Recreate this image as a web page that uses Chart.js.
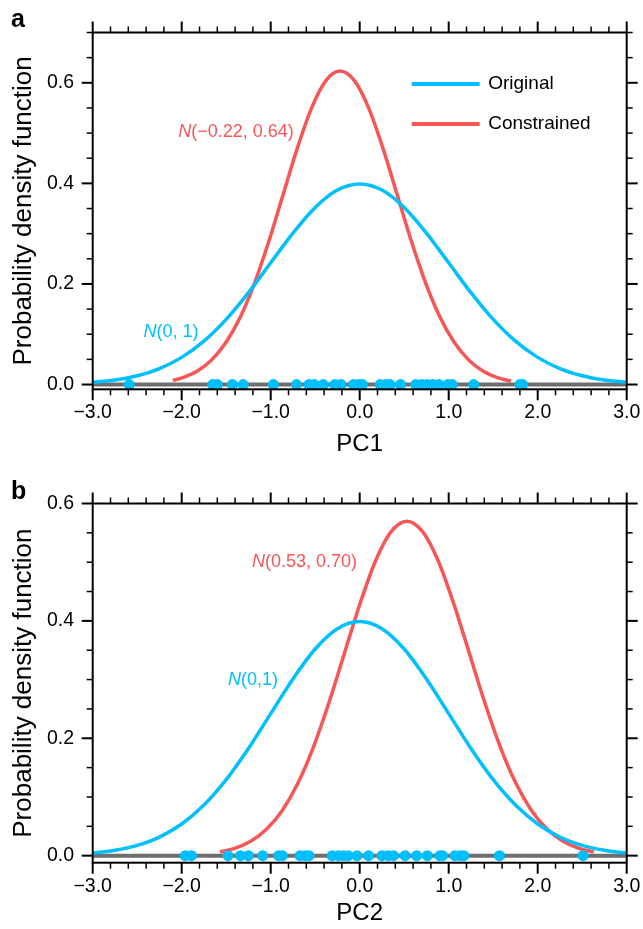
<!DOCTYPE html>
<html>
<head>
<meta charset="utf-8">
<script src="https://cdn.jsdelivr.net/npm/chart.js@4.4.0/dist/chart.umd.min.js"></script>
<style>
  body { margin: 0; background: #fff; }
  .panel { position: absolute; left: 0; width: 643px; }
</style>
</head>
<body>
<div class="panel" style="top:0;height:465px"><canvas id="chartA" width="643" height="465"></canvas></div>
<div class="panel" style="top:465px;height:464px"><canvas id="chartB" width="643" height="464"></canvas></div>
<script>
// curves
var curveX = [-3, -2.75, -2.5, -2.25, -2, -1.75, -1.5, -1.25, -1, -0.75, -0.5, -0.25, 0,
              0.25, 0.5, 0.75, 1, 1.25, 1.5, 1.75, 2, 2.25, 2.5, 2.75, 3];
var originalPdf = [0.0044, 0.0091, 0.0175, 0.0317, 0.0540, 0.0863, 0.1295, 0.1826, 0.2420, 0.3011, 0.3521, 0.3867, 0.3989,
                   0.3867, 0.3521, 0.3011, 0.2420, 0.1826, 0.1295, 0.0863, 0.0540, 0.0317, 0.0175, 0.0091, 0.0044];

var pc1X = [-2.10, -1.98, -1.82, -1.66, -1.50, -1.34, -1.18, -1.02, -0.86, -0.70, -0.54, -0.38, -0.22,
            -0.06, 0.10, 0.26, 0.42, 0.58, 0.74, 0.90, 1.06, 1.22, 1.38, 1.54, 1.70];
var pc1Pdf = [0.0083, 0.0142, 0.0273, 0.0495, 0.0844, 0.1348, 0.2023, 0.2853, 0.3781, 0.4705, 0.5502, 0.6042, 0.6233,
              0.6042, 0.5502, 0.4705, 0.3781, 0.2853, 0.2023, 0.1348, 0.0844, 0.0495, 0.0273, 0.0142, 0.0069];

var pc2X = [-1.57, -1.395, -1.22, -1.045, -0.87, -0.695, -0.52, -0.345, -0.17, 0.005, 0.18, 0.355, 0.53,
            0.705, 0.88, 1.055, 1.23, 1.405, 1.58, 1.755, 1.93, 2.105, 2.28, 2.455, 2.63];
var pc2Pdf = [0.0063, 0.0130, 0.0250, 0.0453, 0.0771, 0.1233, 0.1850, 0.2609, 0.3457, 0.4301, 0.5030, 0.5524, 0.5699,
              0.5524, 0.5030, 0.4301, 0.3457, 0.2609, 0.1850, 0.1233, 0.0771, 0.0453, 0.0250, 0.0130, 0.0063];

// model values along the axis
var pc1Members = [-2.59, -1.65, -1.60, -1.43, -1.31, -0.97, -0.71, -0.57, -0.51, -0.41, -0.28, -0.21, -0.07, -0.01, 0.03,
                  0.23, 0.29, 0.34, 0.46, 0.63, 0.70, 0.76, 0.82, 0.89, 0.99, 1.04, 1.28, 1.80, 1.83];
var pc2Members = [-1.96, -1.89, -1.48, -1.34, -1.25, -1.09, -0.91, -0.87, -0.67, -0.61, -0.57, -0.31, -0.24, -0.18, -0.13,
                  -0.03, 0.10, 0.25, 0.32, 0.38, 0.51, 0.64, 0.76, 0.90, 0.93, 1.07, 1.13, 1.17, 1.57, 2.51];

var xTicks = [-3, -2, -1, 0, 1, 2, 3];
var yTicks = [0, 0.2, 0.4, 0.6];
var seriesNames = ['Original', 'Constrained'];

var BLUE = '#00BFFF';
var RED = '#F75656';
var FONT = 'Liberation Sans, Arial, Helvetica, sans-serif';

function toPoints(xs, ys) {
  var pts = [];
  for (var i = 0; i < xs.length; i++) pts.push({x: xs[i], y: ys[i]});
  return pts;
}

function line(ctx, x1, y1, x2, y2) {
  ctx.beginPath();
  ctx.moveTo(x1, y1);
  ctx.lineTo(x2, y2);
  ctx.stroke();
}

// frame, minor/major ticks on four sides, labels inside the plot
var frameTicks = {
  id: 'frameTicks',
  afterDraw: function(chart, args, opts) {
    var ctx = chart.ctx, a = chart.chartArea;
    var xs = chart.scales.x, ys = chart.scales.y;
    ctx.save();
    ctx.strokeStyle = '#000';
    ctx.lineWidth = 2;
    ctx.strokeRect(a.left, a.top, a.right - a.left, a.bottom - a.top);

    var i, v, p, len;
    for (i = 0; i <= 30; i++) {
      v = -3 + i * 0.2;
      p = xs.getPixelForValue(v);
      len = (i % 5 == 0) ? 11 : 6;
      ctx.lineWidth = (i % 5 == 0) ? 2 : 1.5;
      line(ctx, p, a.bottom, p, a.bottom + len);
      line(ctx, p, a.top, p, a.top - len);
    }
    for (i = 0; ; i++) {
      v = i * 0.05;
      if (v > ys.max + 1e-6) break;
      p = ys.getPixelForValue(v);
      len = (i % 4 == 0) ? 11 : 6;
      ctx.lineWidth = (i % 4 == 0) ? 2 : 1.5;
      line(ctx, a.left, p, a.left - len, p);
      line(ctx, a.right, p, a.right + len, p);
    }

    // panel letter
    ctx.fillStyle = '#000';
    ctx.font = 'bold 25px ' + FONT;
    ctx.textAlign = 'left';
    ctx.textBaseline = 'middle';
    ctx.fillText(opts.letter, 11, opts.letterY);

    // curve labels
    opts.notes.forEach(function(n) {
      var x = xs.getPixelForValue(n.x), y = ys.getPixelForValue(n.y);
      ctx.fillStyle = n.color;
      ctx.font = 'italic 18px ' + FONT;
      ctx.fillText('N', x, y);
      var w = ctx.measureText('N').width;
      ctx.font = '18px ' + FONT;
      ctx.fillText(n.text, x + w, y);
    });

    if (opts.legend) {
      var cols = [BLUE, RED];
      for (i = 0; i < seriesNames.length; i++) {
        var yy = a.top + 51.5 + i * 40;
        ctx.strokeStyle = cols[i];
        ctx.lineWidth = 4;
        line(ctx, a.right - 215, yy, a.right - 147, yy);
        ctx.fillStyle = '#000';
        ctx.font = '19px ' + FONT;
        ctx.fillText(seriesNames[i], a.right - 138.5, yy);
      }
    }
    ctx.restore();
  }
};

function makePanel(id, p) {
  var datasets = [
    {type: 'scatter', data: p.members.map(function(v) { return {x: v, y: 0}; }),
     pointRadius: 5.5, pointBackgroundColor: BLUE, pointBorderWidth: 0, clip: false, order: 0},
    {type: 'line', data: toPoints(curveX, originalPdf), borderColor: BLUE, borderWidth: 3.5,
     pointRadius: 0, cubicInterpolationMode: 'monotone', fill: false, order: 1},
    {type: 'line', data: toPoints(p.redX, p.redY), borderColor: RED, borderWidth: 3.5,
     pointRadius: 0, cubicInterpolationMode: 'monotone', fill: false, order: 2},
    {type: 'line', data: [{x: -3, y: 0}, {x: 3, y: 0}], borderColor: '#6E6E6E', borderWidth: 4,
     pointRadius: 0, fill: false, order: 3}
  ];

  new Chart(document.getElementById(id), {
    type: 'line',
    data: {datasets: datasets},
    options: {
      responsive: false,
      animation: false,
      layout: {padding: {top: p.top, right: 16.3, left: 0, bottom: 0}},
      plugins: {
        legend: {display: false},
        tooltip: {enabled: false},
        frameTicks: {letter: p.letter, letterY: p.letterY, notes: p.notes, legend: p.legend}
      },
      scales: {
        x: {
          type: 'linear', min: -3, max: 3,
          afterBuildTicks: function(s) { s.ticks = xTicks.map(function(v) { return {value: v}; }); },
          afterFit: function(s) { s.height = p.xHeight; s.paddingLeft = 0; s.paddingRight = 0; },
          grid: {display: false, drawTicks: false, tickLength: 0},
          border: {display: false},
          ticks: {
            color: '#000', font: {family: FONT, size: 19.5}, padding: 12, maxRotation: 0, autoSkip: false,
            callback: function(v) { return (v < 0 ? '\u2212' : '') + Math.abs(v).toFixed(1); }
          },
          title: {display: true, text: p.xTitle, color: '#000', font: {family: FONT, size: 24},
                  padding: {top: 0, bottom: p.titlePad}}
        },
        y: {
          type: 'linear', min: p.yMin, max: p.yMax,
          afterBuildTicks: function(s) { s.ticks = yTicks.map(function(v) { return {value: v}; }); },
          afterFit: function(s) { s.width = 92.7; s.paddingTop = 0; s.paddingBottom = 0; },
          grid: {display: false, drawTicks: false, tickLength: 0},
          border: {display: false},
          ticks: {
            color: '#000', font: {family: FONT, size: 19.5}, padding: 18.7,
            callback: function(v) { return v.toFixed(1); }
          },
          title: {display: true, text: 'Probability density function', color: '#000',
                  font: {family: FONT, size: 26}, padding: {top: 8, bottom: 0}}
        }
      }
    },
    plugins: [frameTicks]
  });
}

makePanel('chartA', {
  members: pc1Members, redX: pc1X, redY: pc1Pdf,
  top: 32.5, xHeight: 75.7, yMin: -0.0095, yMax: 0.7, xTitle: 'PC1', titlePad: 6,
  letter: 'a', letterY: 20, legend: true,
  notes: [
    {x: -2.04, y: 0.503, text: '(\u22120.22, 0.64)', color: RED},
    {x: -2.43, y: 0.105, text: '(0, 1)', color: BLUE}
  ]
});

makePanel('chartB', {
  members: pc2Members, redX: pc2X, redY: pc2Pdf,
  top: 38.5, xHeight: 66.3, yMin: -0.012, yMax: 0.6, xTitle: 'PC2', titlePad: 1,
  letter: 'b', letterY: 27, legend: false,
  notes: [
    {x: -1.21, y: 0.501, text: '(0.53, 0.70)', color: RED},
    {x: -1.48, y: 0.30, text: '(0,1)', color: BLUE}
  ]
});
</script>
</body>
</html>
